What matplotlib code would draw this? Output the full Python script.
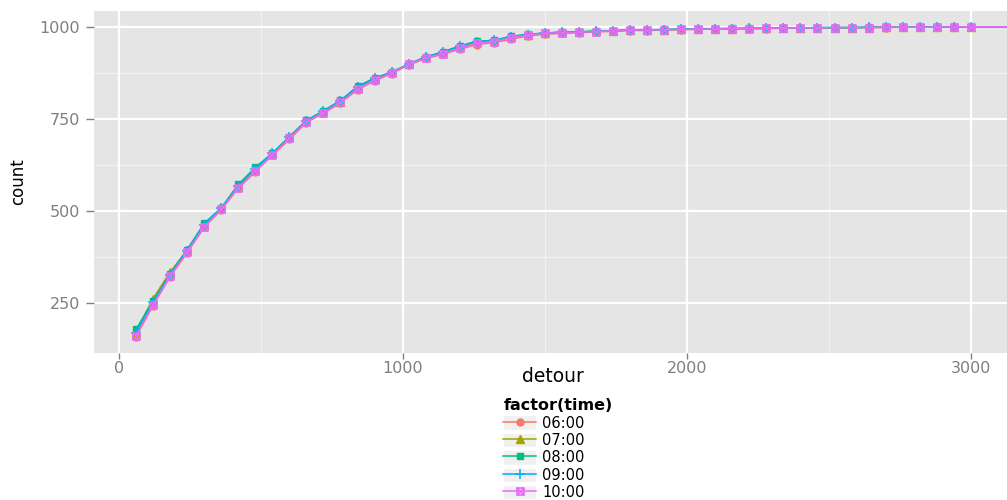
import matplotlib
matplotlib.use('Agg')
import matplotlib.pyplot as plt
from matplotlib.path import Path
from matplotlib.patches import Patch
from matplotlib.legend_handler import HandlerTuple

# ---------------- data ----------------
detour = [60, 120, 180, 240, 300, 360, 420, 480, 540, 600,
          660, 720, 780, 840, 900, 960, 1020, 1080, 1140, 1200,
          1260, 1320, 1380, 1440, 1500, 1560, 1620, 1680, 1740, 1800,
          1860, 1920, 1980, 2040, 2100, 2160, 2220, 2280, 2340, 2400,
          2460, 2520, 2580, 2640, 2700, 2760, 2820, 2880, 2940, 3000, 3180]

count_0600 = [158, 243, 321, 386, 455, 503, 561, 606, 651, 694,
              740, 765, 793, 829, 853, 873, 896, 914, 925, 939,
              952, 957, 966, 975, 980, 982, 984, 986, 988, 990,
              990, 991, 992, 993, 994, 994, 995, 995, 996, 996,
              997, 997, 998, 998, 998, 999, 999, 999, 999, 1000, 1000]
count_0700 = [172, 262, 334, 393, 461, 507, 566, 614, 656, 700,
              744, 770, 797, 835, 859, 876, 898, 917, 930, 946,
              959, 962, 972, 979, 983, 985, 986, 988, 989, 991,
              992, 992, 993, 994, 995, 995, 996, 996, 997, 997,
              997, 998, 998, 998, 999, 999, 999, 999, 1000, 1000, 1000]
count_0800 = [178, 256, 329, 395, 466, 508, 572, 618, 657, 702,
              746, 772, 800, 838, 861, 877, 899, 918, 932, 948,
              961, 963, 974, 980, 983, 986, 987, 988, 990, 992,
              992, 993, 994, 995, 995, 996, 996, 997, 997, 997,
              998, 998, 998, 999, 999, 999, 999, 1000, 1000, 1000, 1000]
count_0900 = [168, 252, 327, 392, 462, 507, 568, 615, 656, 700,
              745, 771, 799, 837, 860, 876, 899, 918, 931, 947,
              960, 963, 973, 979, 983, 985, 986, 988, 989, 991,
              992, 992, 994, 995, 995, 995, 996, 996, 997, 997,
              998, 998, 998, 999, 999, 999, 999, 1000, 1000, 1000, 1000]
count_1000 = [161, 245, 323, 388, 457, 505, 563, 608, 653, 697,
              742, 767, 795, 831, 855, 875, 898, 916, 927, 942,
              955, 960, 970, 978, 982, 984, 985, 987, 989, 991,
              991, 992, 993, 994, 994, 995, 995, 996, 996, 997,
              997, 998, 998, 998, 999, 999, 999, 999, 1000, 1000, 1000]

time_labels = ["06:00", "07:00", "08:00", "09:00", "10:00"]
series = [count_0600, count_0700, count_0800, count_0900, count_1000]
colors = ["#F8766D", "#A3A500", "#00BF7D", "#00B0F6", "#E76BF3"]

x_ticks = [0, 1000, 2000, 3000]
x_minor = [500, 1500, 2500]
y_ticks = [250, 500, 750, 1000]
y_minor = [375, 625, 875]

# ---------------- style ----------------
sq_cross = Path([(-1, -1), (1, -1), (1, 1), (-1, 1), (-1, -1),
                 (-1, -1), (1, 1), (-1, 1), (1, -1)],
                [Path.MOVETO, Path.LINETO, Path.LINETO, Path.LINETO, Path.CLOSEPOLY,
                 Path.MOVETO, Path.LINETO, Path.MOVETO, Path.LINETO])
marker_specs = [
    dict(marker='o', markersize=5.0),
    dict(marker='^', markersize=5.5),
    dict(marker='s', markersize=4.5),
    dict(marker='+', markersize=6.5, markeredgewidth=1.1),
    dict(marker=sq_cross, markersize=5.0, markerfacecolor='none', markeredgewidth=1.2),
]

plt.rcParams['font.family'] = ['DejaVu Sans']

fig = plt.figure(figsize=(10.07, 5.00), dpi=100)
ax = fig.add_axes([94 / 1007, 1 - 353 / 500, (1012 - 94) / 1007, (353 - 11) / 500])
ax.set_facecolor('#E5E5E5')
for s in ax.spines.values():
    s.set_visible(False)

for v in x_minor:
    ax.axvline(v, color='#F2F2F2', lw=0.9, zorder=0)
for v in y_minor:
    ax.axhline(v, color='#F2F2F2', lw=0.9, zorder=0)
ax.set_axisbelow(True)
ax.grid(True, which='major', color='white', lw=1.6)

line_handles = []
for vals, col, lab, mk in zip(series, colors, time_labels, marker_specs):
    ln, = ax.plot(detour, vals, color=col, lw=1.1, label=lab, clip_on=True, **mk)
    line_handles.append(ln)

ax.set_xlim(-88, 3145)
ax.set_ylim(114, 1043)
ax.set_xticks(x_ticks)
ax.set_yticks(y_ticks)
ax.tick_params(axis='both', colors='#7F7F7F', labelcolor='#7F7F7F', labelsize=11.5, width=1)
ax.tick_params(axis='x', length=4, pad=2)
ax.tick_params(axis='y', length=6, pad=4)

ax.set_xlabel('detour', fontsize=13.5, labelpad=-7)
ax.set_ylabel('count', fontsize=12, labelpad=9)

# legend
handles = [(Patch(facecolor='#F0F0F0', edgecolor='white', lw=1), h) for h in line_handles]
leg = fig.legend(handles, time_labels, loc='upper left',
                 bbox_to_anchor=(496 / 1007, 1 - 391 / 500),
                 handler_map={tuple: HandlerTuple(ndivide=1, pad=0)},
                 title='factor(time)', title_fontproperties={'weight': 'bold', 'size': 11.5},
                 fontsize=10.5, frameon=False, handlelength=2.25, handleheight=1.15,
                 labelspacing=0.15, handletextpad=0.4, borderpad=0.0,
                 alignment='left', numpoints=1)

fig.savefig('out.png', dpi=100)
